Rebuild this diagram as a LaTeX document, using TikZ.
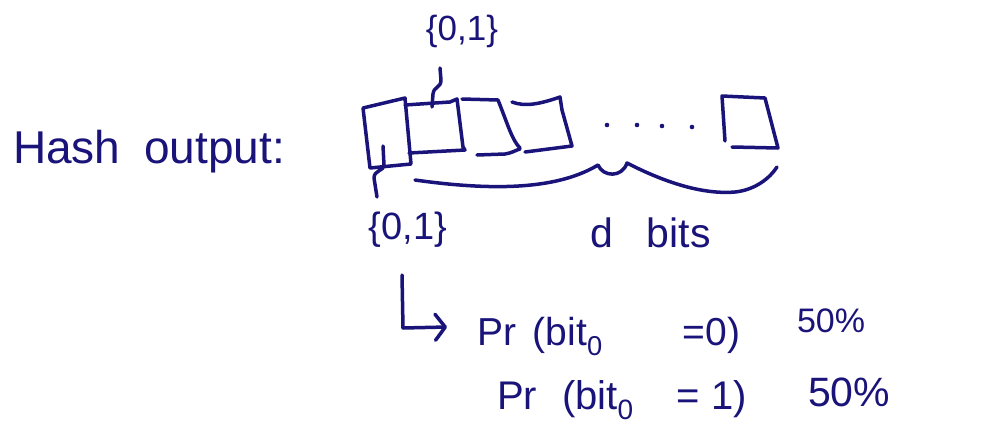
\documentclass[tikz,border=0pt]{standalone}
\usepackage{fontspec}
\setmainfont{Liberation Sans}
\usetikzlibrary{arrows.meta}
\definecolor{ink}{RGB}{26,20,122}
\begin{document}
\begin{tikzpicture}[x=1pt,y=-1pt,
  pen/.style={draw=ink, line width=3.5pt, line cap=round, line join=round},
  script/.style={text=ink, inner sep=0pt, outer sep=0pt},
  dot/.style={fill=ink},
  barb/.style={-{Straight Barb[length=10pt,width=26pt,line cap=round,line join=round]}},
]
\useasboundingbox (0,0) rectangle (1002,426);
\fill[white] (0,0) rectangle (1002,426);

% heading
\node[script, font=\fontsize{46}{50}\selectfont, anchor=base west] (hash) at (13,163) {Hash\hspace{24pt}output:};

% the bit cells
\draw[pen] (363,108) -- (405,98) -- (411,164) -- (370,168) -- cycle;
\draw[pen] (405,105) -- (450,102) -- (457,99) -- (463,147) -- (465,150) -- (409,153);
\draw[pen] (462,99) -- (498,100) .. controls (508,125) and (512,140) .. (520,148);
\draw[pen] (477,155) -- (505,154) .. controls (512,153) and (516,150) .. (520,149);
\draw[pen] (512,102) .. controls (525,107) and (540,104) .. (560,97) -- (562,110) -- (572,146) -- (525,152);
\foreach \p in {(607,125),(637,125),(662,126),(692,127)} \fill[dot] \p circle (2.3);
\draw[pen] (725,141) -- (722,96) -- (765,98) -- (778,148) -- (732,147);

% labels of the first two cells
\node[script, font=\fontsize{35}{38}\selectfont] (topset) at (462,31) {\{0,1\}};
\node[script, font=\fontsize{38}{40}\selectfont] (lowset) at (408,230) {\{0,1\}};
\coordinate (celltwo) at (432,107);
\coordinate (topend) at (440,68);
\coordinate (cellone) at (383,146);
\coordinate (lowend) at (377,197);
\draw[pen] (celltwo) -- (433,94) .. controls (434,86) and (441,88) .. (441,80) -- (topend);
\draw[pen] (cellone) -- (384,165) .. controls (384,171) and (374,170) .. (374,178) -- (lowend);

% brace under the cells
\draw[pen] (415,180) .. controls (500,192) and (560,188) .. (598,165)
  .. controls (603,177) and (622,178) .. (627,163)
  .. controls (660,180) and (700,195) .. (735,192)
  .. controls (755,190) and (770,178) .. (777,167);
\node[script, font=\fontsize{41}{44}\selectfont, anchor=base west] (dbits) at (590,247) {d\hspace{34pt}bits};

% probabilities
\node[script, font=\fontsize{39}{42}\selectfont, anchor=base west] (przero) at (477,345)
  {Pr\hspace{17pt}(bit\textsubscript{0}\hspace{80pt}=0)};
\node[script, font=\fontsize{34}{36}\selectfont, anchor=base west] (pczero) at (797,332) {50\%};
\node[script, font=\fontsize{40}{44}\selectfont, anchor=base west] (prone) at (497,409)
  {Pr\hspace{25pt}(bit\textsubscript{0}\hspace{43pt}= 1)};
\node[script, font=\fontsize{41}{44}\selectfont, anchor=base west] (pcone) at (808,406) {50\%};

% arrow from the first bit to its probabilities
\coordinate (drop) at (402,275);
\coordinate (tip) at (447,327);
\draw[pen, barb] (drop) -- (403,328) -- (tip);
\end{tikzpicture}
\end{document}
